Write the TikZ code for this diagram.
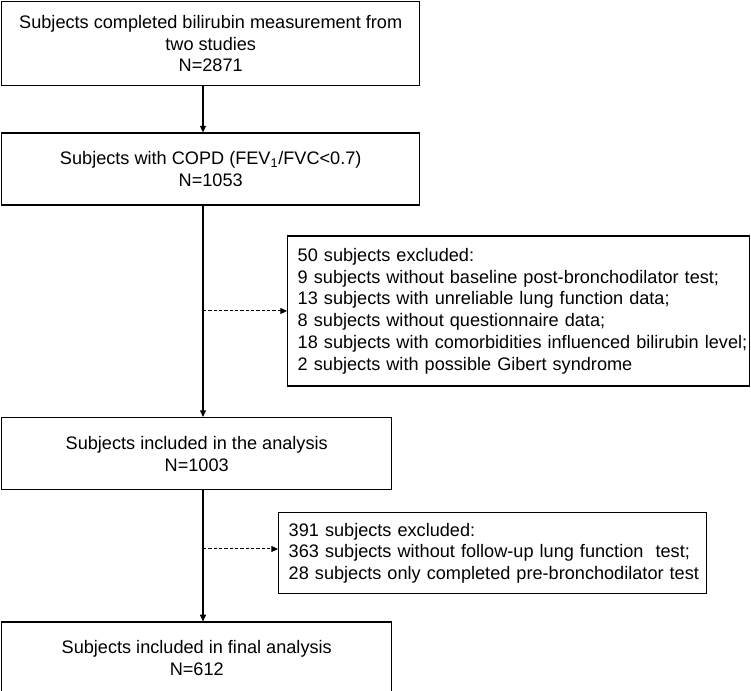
\documentclass[tikz,border=0pt]{standalone}
\usepackage{fontspec}
\setmainfont{Liberation Sans}
\usetikzlibrary{arrows.meta,positioning}

\begin{document}
\begin{tikzpicture}[
    x=0.75pt, y=-0.75pt,
    font=\fontsize{13.6pt}{16.3pt}\selectfont,
    box/.style={draw, line width=1.1pt, rectangle, align=center, inner sep=0pt},
    exclbox/.style={draw, line width=1.1pt, rectangle, align=left, inner ysep=0pt,
                    inner xsep=0.25pt, execute at begin node={\leftskip=7.25pt}},
    arrow/.style={-{Triangle[length=5pt, width=4.5pt]}, line width=0.8pt},
    dasharrow/.style={-{Triangle[length=5pt, width=4.5pt]}, line width=0.75pt,
                      dash pattern=on 2.5pt off 1.5pt}
]
\useasboundingbox (0,0) rectangle (751,691);

\node[box, anchor=north west, minimum width=313.5pt, minimum height=63pt] (all) at (1,1)
    {Subjects completed bilirubin measurement from\\two studies\\N=2871};
\node[box, below=34.5pt of all, minimum width=313.5pt, minimum height=54pt] (copd)
    {Subjects with COPD (FEV\textsubscript{1}/FVC<0.7)\\N=1053};
\node[box, below=158.25pt of copd.south west, anchor=north west,
      minimum width=292.5pt, minimum height=54pt] (incl)
    {Subjects included in the analysis\\N=1003};
\node[box, below=98.25pt of incl.south west, anchor=north west,
      minimum width=292.5pt, minimum height=54pt] (final)
    {Subjects included in final analysis\\N=612};

\node[exclbox, anchor=west, text width=346pt, minimum height=112.5pt] (excl1) at (287,311)
    {50 subjects excluded:\\
     9 subjects without baseline post-bronchodilator test;\\
     13 subjects with unreliable lung function data;\\
     8 subjects without questionnaire data;\\
     18 subjects with comorbidities influenced bilirubin level;\\
     2 subjects with possible Gibert syndrome};
\node[exclbox, anchor=north west, text width=320.5pt, minimum height=60.75pt] (excl2) at (278,512)
    {391 subjects excluded:\\
     363 subjects without follow-up lung function~ test;\\
     28 subjects only completed pre-bronchodilator test};

\coordinate (spine) at (203,0);
\coordinate (tap1) at (203,311);
\coordinate (tap2) at (203,549);

\draw[arrow] (all.south -| spine) -- (copd.north -| spine);
\draw[arrow] (copd.south -| spine) -- (incl.north -| spine);
\draw[arrow] (incl.south -| spine) -- (final.north -| spine);
\draw[dasharrow] (tap1) -- (tap1 -| excl1.west);
\draw[dasharrow] (tap2) -- (tap2 -| excl2.west);
\end{tikzpicture}
\end{document}
